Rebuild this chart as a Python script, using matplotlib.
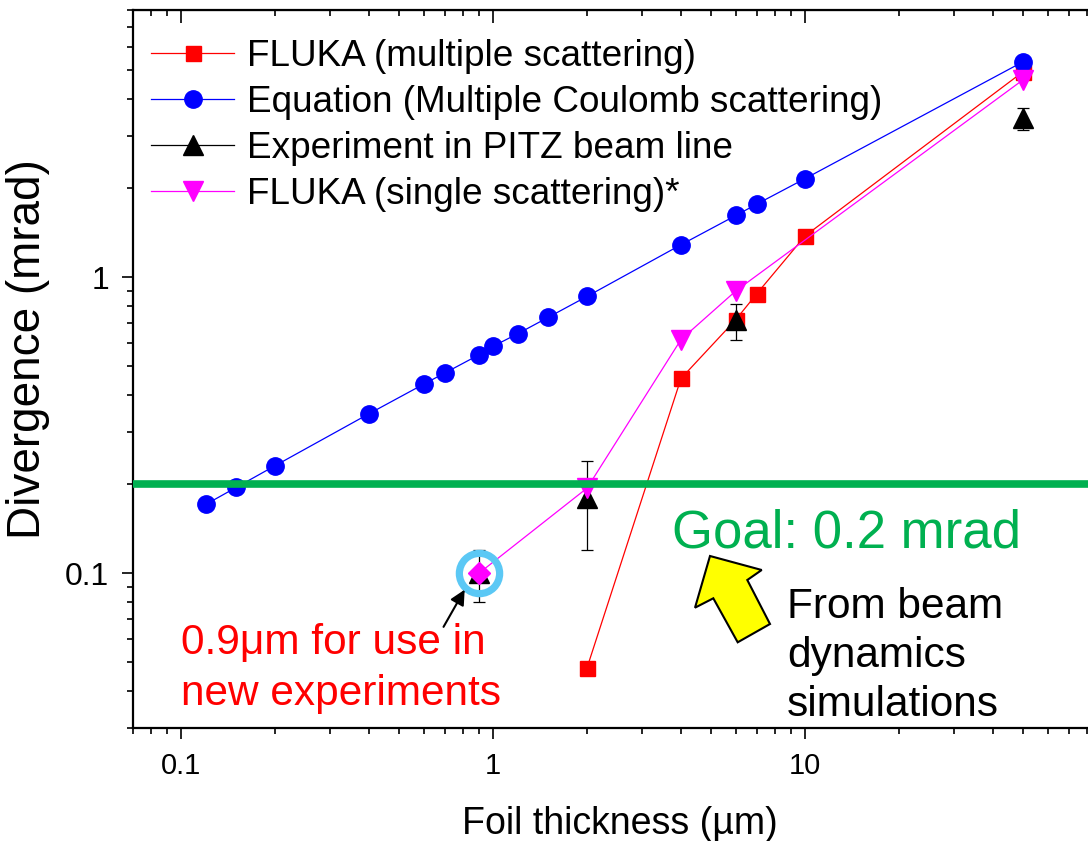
import matplotlib
matplotlib.use('Agg')
import matplotlib.pyplot as plt
from matplotlib.lines import Line2D
from matplotlib.patches import Polygon
from matplotlib.ticker import LogLocator, NullFormatter, FixedLocator, FixedFormatter

plt.rcParams['font.family'] = ['Liberation Sans', 'DejaVu Sans']

# ---------------- data ----------------
fluka_ms_x = [2, 4, 6, 7, 10, 50]
fluka_ms_y = [0.048, 0.455, 0.72, 0.88, 1.38, 4.95]

eq_x = [0.12, 0.15, 0.2, 0.4, 0.6, 0.7, 0.9, 1.0, 1.2, 1.5, 2, 4, 6, 7, 10, 50]
eq_y = [0.171, 0.195, 0.231, 0.346, 0.436, 0.475, 0.547, 0.585, 0.645, 0.732,
        0.862, 1.288, 1.618, 1.767, 2.155, 5.35]

exp_x = [0.9, 2, 6, 50]
exp_y = [0.100, 0.180, 0.715, 3.44]
exp_err = [0.02, 0.06, 0.10, 0.30]

fluka_ss_x = [0.9, 2, 4, 6, 50]
fluka_ss_y = [0.100, 0.194, 0.616, 0.90, 4.65]

goal = 0.2
selected_x, selected_y = 0.9, 0.1

labels = ["FLUKA (multiple scattering)",
          "Equation (Multiple Coulomb scattering)",
          "Experiment in PITZ beam line",
          "FLUKA (single scattering)*"]

W, H = 1088, 841
fig = plt.figure(figsize=(W / 100, H / 100), dpi=100)
L, R, T, B = 133, 1117, 10, 728
ax = fig.add_axes([L / W, 1 - B / H, (R - L) / W, (B - T) / H])
ax.set_xscale('log')
ax.set_yscale('log')
ax.set_xlim(0.07, 100)
ax.set_ylim(0.03, 8)

RED, BLUE, MAG = '#FF0000', '#0000FF', '#FF00FF'
GREEN = '#00B050'

ax.plot(fluka_ms_x, fluka_ms_y, '-', color=RED, lw=0.9, marker='s', ms=10.8,
        mec=RED, mfc=RED, zorder=3)
ax.plot(eq_x, eq_y, '-', color=BLUE, lw=0.9, marker='o', ms=12.5,
        mec=BLUE, mfc=BLUE, zorder=3)
ax.errorbar(exp_x, exp_y, yerr=exp_err, fmt='^', color='black', ms=14,
            elinewidth=0.9, capsize=4.5, capthick=0.9, zorder=4)
ax.plot(fluka_ss_x, fluka_ss_y, '-', color=MAG, lw=0.9, zorder=5)
ax.plot(fluka_ss_x[1:], fluka_ss_y[1:], 'v', color=MAG, ms=14.5, zorder=5)
ax.plot([fluka_ss_x[0]], [fluka_ss_y[0]], 'D', color=MAG, ms=11, zorder=5)

# goal line
ax.axhline(goal, color=GREEN, lw=5.5, zorder=6)

# highlight ring
ax.plot([selected_x], [selected_y], 'o', mfc='none', mec='#5BC8F5', mew=5.2,
        ms=29, zorder=7)

# arrow to highlighted point
ax.annotate('', xy=(0.81, 0.088), xytext=(0.693, 0.0659),
            arrowprops=dict(arrowstyle='-|>,head_length=0.9,head_width=0.45',
                            color='black', lw=1.5, shrinkA=0, shrinkB=0),
            zorder=8)

# axes styling
for s in ax.spines.values():
    s.set_linewidth(1.6)
ax.xaxis.set_major_locator(FixedLocator([0.1, 1, 10]))
ax.xaxis.set_major_formatter(FixedFormatter(['0.1', '1', '10']))
ax.xaxis.set_minor_locator(LogLocator(base=10, subs=range(2, 10), numticks=20))
ax.xaxis.set_minor_formatter(NullFormatter())
ax.yaxis.set_major_locator(FixedLocator([0.1, 1]))
ax.yaxis.set_major_formatter(FixedFormatter(['0.1', '1']))
ax.yaxis.set_minor_locator(LogLocator(base=10, subs=range(2, 10), numticks=20))
ax.yaxis.set_minor_formatter(NullFormatter())
ax.tick_params(axis='both', which='major', length=8, width=1.2, direction='out')
ax.tick_params(axis='both', which='minor', length=4, width=1.2, direction='out')
ax.tick_params(axis='x', which='major', labelsize=21, pad=9)
ax.tick_params(axis='y', which='major', labelsize=23, pad=9)

top = ax.secondary_xaxis('top')
top.xaxis.set_major_locator(FixedLocator([0.1, 1, 10]))
top.xaxis.set_minor_locator(LogLocator(base=10, subs=range(2, 10), numticks=20))
top.tick_params(axis='x', which='major', direction='in', length=9, width=1.2,
                labeltop=False)
top.tick_params(axis='x', which='minor', direction='in', length=4.5, width=1.2)
top.xaxis.set_minor_formatter(NullFormatter())
top.xaxis.set_major_formatter(NullFormatter())

ax.set_xlabel('Foil thickness (µm)', fontsize=27)
ax.xaxis.set_label_coords((620 - L) / (R - L), -(806 - B) / (B - T))
ax.set_ylabel('Divergence (mrad)', fontsize=33)
ax.yaxis.set_label_coords(-(133 - 50) / (R - L), (B - 349) / (B - T))

# legend
handles = [
    Line2D([], [], color=RED, lw=0.9, marker='s', ms=10.8),
    Line2D([], [], color=BLUE, lw=0.9, marker='o', ms=12.5),
    Line2D([], [], color='black', lw=0.9, marker='^', ms=14),
    Line2D([], [], color=MAG, lw=0.9, marker='v', ms=14.5),
]
leg = ax.legend(handles, labels, loc='upper left', frameon=False, fontsize=26.6,
                handlelength=2.26, handletextpad=0.35, labelspacing=0.30,
                borderpad=0, borderaxespad=0,
                bbox_to_anchor=(151 / W, 1 - 39 / H), bbox_transform=fig.transFigure)

# annotation texts (figure pixel positions)
def ftext(px, py, s, **kw):
    fig.text(px / W, 1 - py / H, s, va='baseline', ha='left', **kw)

ftext(181, 654, '0.9\u03bcm for use in', color=RED, fontsize=30.5)
ftext(181, 705, 'new experiments', color=RED, fontsize=30.5)
ftext(672, 547, 'Goal: 0.2 mrad', color=GREEN, fontsize=38)
ftext(787, 618, 'From beam', color='black', fontsize=30.5)
ftext(787, 667, 'dynamics', color='black', fontsize=30.5)
ftext(787, 716, 'simulations', color='black', fontsize=30.5)

# yellow block arrow
arrow_px = [(710, 556), (761.7, 570), (747.3, 580), (770, 624),
            (737.7, 642.3), (713.3, 598.3), (695, 607.7)]
poly = Polygon([(x / W, 1 - y / H) for x, y in arrow_px], closed=True,
               facecolor='#FFFF00', edgecolor='black', lw=1.5,
               transform=fig.transFigure, zorder=10)
fig.patches.append(poly)

fig.savefig('out.png', dpi=100)
